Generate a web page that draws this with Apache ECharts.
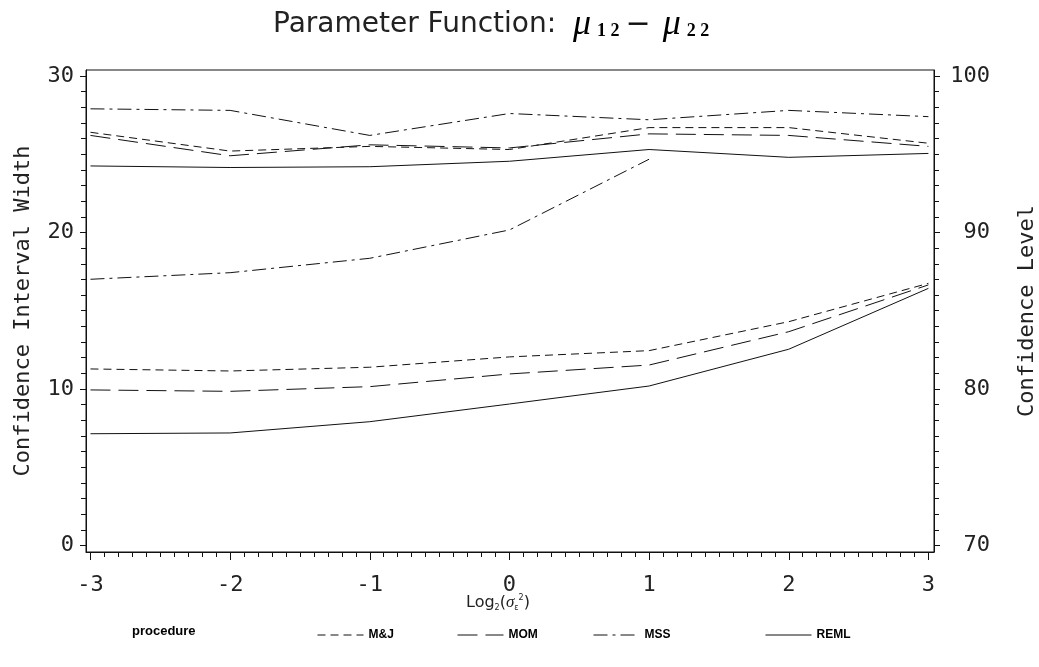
<!DOCTYPE html>
<html>
<head>
<meta charset="utf-8">
<script src="https://cdn.jsdelivr.net/npm/echarts@6/dist/echarts.min.js"></script>
<style>html,body{margin:0;padding:0;background:#fff;}#chart{width:1039px;height:667px;}</style>
</head>
<body>
<div id="chart"></div>
<script>
// ---- data ----
const xLog2 = [-3, -2, -1, 0, 1, 2, 3];
const procedures = ['M&J', 'MOM', 'MSS', 'REML'];
// Confidence interval width (left axis)
const widthMJ   = [11.28, 11.15, 11.39, 12.05, 12.45, 14.30, 16.75];
const widthMOM  = [9.94, 9.85, 10.15, 10.96, 11.53, 13.66, 16.65];
const widthMSS  = [17.01, 17.43, 18.35, 20.16, 24.68, null, null];
const widthREML = [7.14, 7.19, 7.91, 9.04, 10.19, 12.54, 16.43];
// Confidence level (right axis)
const levelMJ   = [96.4, 95.2, 95.5, 95.3, 96.7, 96.7, 95.7];
const levelMOM  = [96.2, 94.9, 95.6, 95.4, 96.3, 96.2, 95.5];
const levelMSS  = [97.9, 97.8, 96.2, 97.6, 97.2, 97.8, 97.4];
const levelREML = [94.25, 94.15, 94.2, 94.55, 95.3, 94.8, 95.05];
// tick labels
const xTicks = [-3, -2, -1, 0, 1, 2, 3];
const leftTicks = [0, 10, 20, 30];
const rightTicks = [70, 80, 90, 100];

const lineTypes = {
  'M&J': [8, 5],
  'MOM': [20, 8],
  'MSS': [14, 5, 3, 5],
  'REML': 'solid'
};
const widthData = {'M&J': widthMJ, 'MOM': widthMOM, 'MSS': widthMSS, 'REML': widthREML};
const levelData = {'M&J': levelMJ, 'MOM': levelMOM, 'MSS': levelMSS, 'REML': levelREML};

function pairs(arr) { return xLog2.map((x, i) => [x, arr[i]]); }
function minorList(a, b, step, majorStep) {
  const out = [];
  const n = Math.round((b - a) / step);
  for (let i = 0; i <= n; i++) {
    const v = +(a + i * step).toFixed(4);
    if (Math.abs(v / majorStep - Math.round(v / majorStep)) > 1e-6) out.push(v);
  }
  return out;
}

const MONO = "'DejaVu Sans Mono', monospace";
const INK = '#111';

const series = [];
procedures.forEach(p => {
  const ls = { color: INK, width: 1, type: lineTypes[p] };
  series.push({ name: p, type: 'line', xAxisIndex: 0, yAxisIndex: 0, data: pairs(widthData[p]),
    symbol: 'none', connectNulls: false, lineStyle: ls, itemStyle: { color: INK }, animation: false });
  series.push({ name: p, type: 'line', xAxisIndex: 0, yAxisIndex: 2, data: pairs(levelData[p]),
    symbol: 'none', lineStyle: ls, itemStyle: { color: INK }, animation: false });
});

const xMin = -3.032, xMax = 3.04;
const yMin = -0.415, yMax = 30.38;

const legendPos = { 'M&J': 312, 'MOM': 452, 'MSS': 588, 'REML': 760 };
const legends = procedures.map(p => ({
  data: [p], left: legendPos[p], top: 624, itemWidth: 46, itemHeight: 10,
  itemGap: 0,
  itemStyle: { opacity: 0 },
  lineStyle: { color: INK, width: 1, type: lineTypes[p] },
  textStyle: { fontFamily: "'Liberation Sans', Arial, sans-serif", fontWeight: 'bold', fontSize: 12, color: '#000' }
}));

const chart = echarts.init(document.getElementById('chart'), null, { renderer: 'canvas' });
chart.setOption({
  backgroundColor: '#fff',
  animation: false,
  title: {
    text: '{a|Parameter Function: }{mu|μ}{sub|1 2}{m|−}{mu|μ}{sub|2 2}',
    left: 268, top: 2,
    textStyle: {
      fontWeight: 'normal',
      rich: {
        a: { fontFamily: "'DejaVu Sans', sans-serif", fontSize: 28, color: '#222', fontWeight: 'normal' },
        m: { fontFamily: "'DejaVu Sans', sans-serif", fontSize: 30, color: '#111', fontWeight: 'normal', padding: [0, 4, 0, 4] },
        mu: { fontFamily: "'Liberation Serif', serif", fontStyle: 'italic', fontWeight: 'normal', fontSize: 36, color: '#000', padding: [0, 3, 0, 8] },
        sub: { fontFamily: "'Liberation Serif', serif", fontWeight: 'bold', fontSize: 18, color: '#000', padding: [12, 2, 0, 3] }
      }
    }
  },
  legend: legends,
  graphic: [{
    type: 'text', left: 132, top: 625,
    style: { text: 'procedure', font: "bold 13px 'Liberation Sans', Arial, sans-serif", fill: '#000' }
  }, {
    type: 'text', left: 466, top: 594,
    style: {
      text: '{a|Log}{s|2}{a|(}{g|σ}{s|ε}{p|2}{a|)}',
      rich: {
        a: { fontFamily: "'DejaVu Sans', sans-serif", fontSize: 16, fill: '#222' },
        g: { fontFamily: "'Liberation Serif', serif", fontStyle: 'italic', fontSize: 17, fill: '#222' },
        s: { fontFamily: "'DejaVu Sans', sans-serif", fontSize: 8, fill: '#222', padding: [10, 0, 0, 0] },
        p: { fontFamily: "'DejaVu Sans', sans-serif", fontSize: 8, fill: '#222', padding: [0, 0, 9, 0] }
      }
    }
  }],
  grid: { left: 86, right: 105, top: 70, bottom: 115, show: true, borderColor: INK, borderWidth: 1, outerBoundsMode: 'none', containLabel: false },
  xAxis: [{
    type: 'value', min: xMin, max: xMax, position: 'bottom',
    axisLine: { show: true, onZero: false, lineStyle: { color: INK, width: 1 } },
    axisTick: { show: true, length: 8, customValues: xTicks, lineStyle: { color: INK } },
    axisLabel: { show: true, customValues: xTicks, margin: 22, fontFamily: MONO, fontSize: 22, color: '#222' },
    splitLine: { show: false }
  }, {
    type: 'value', min: xMin, max: xMax, position: 'bottom',
    axisLine: { show: false, onZero: false },
    axisTick: { show: true, length: 5, customValues: minorList(-3, 3, 0.1, 1), lineStyle: { color: INK } },
    axisLabel: { show: false }, splitLine: { show: false }
  }],
  yAxis: [{
    type: 'value', min: yMin, max: yMax, position: 'left',
    name: 'Confidence Interval Width', nameLocation: 'middle', nameRotate: 90, nameGap: 52,
    nameTextStyle: { fontFamily: MONO, fontSize: 22, color: '#222' },
    axisLine: { show: true, onZero: false, lineStyle: { color: INK } },
    axisTick: { show: true, length: 6, customValues: leftTicks, lineStyle: { color: INK } },
    axisLabel: { show: true, customValues: leftTicks, margin: 12, fontFamily: MONO, fontSize: 22, color: '#222' },
    splitLine: { show: false }
  }, {
    type: 'value', min: yMin, max: yMax, position: 'left',
    axisLine: { show: false, onZero: false },
    axisTick: { show: true, length: 5, customValues: minorList(0, 30, 1, 10), lineStyle: { color: INK } },
    axisLabel: { show: false }, splitLine: { show: false }
  }, {
    type: 'value', min: yMin + 70, max: yMax + 70, position: 'right',
    name: 'Confidence Level', nameLocation: 'middle', nameRotate: 90, nameGap: 82,
    nameTextStyle: { fontFamily: MONO, fontSize: 22, color: '#222' },
    axisLine: { show: true, onZero: false, lineStyle: { color: INK } },
    axisTick: { show: true, length: 6, customValues: rightTicks, lineStyle: { color: INK } },
    axisLabel: { show: true, customValues: rightTicks, margin: 56, align: 'right', fontFamily: MONO, fontSize: 22, color: '#222' },
    splitLine: { show: false }
  }, {
    type: 'value', min: yMin + 70, max: yMax + 70, position: 'right',
    axisLine: { show: false, onZero: false },
    axisTick: { show: true, length: 5, customValues: minorList(70, 100, 1, 10), lineStyle: { color: INK } },
    axisLabel: { show: false }, splitLine: { show: false }
  }],
  series: series
});
</script>
</body>
</html>
